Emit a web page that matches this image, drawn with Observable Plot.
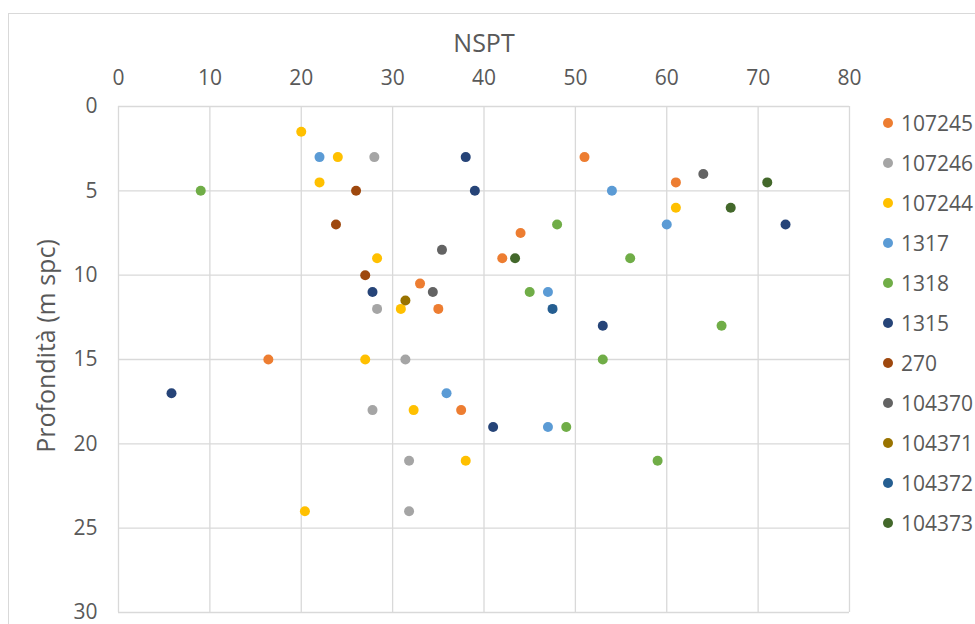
<!DOCTYPE html>
<html>
<head>
<meta charset="utf-8">
<script src="https://cdn.jsdelivr.net/npm/d3@7"></script>
<script src="https://cdn.jsdelivr.net/npm/@observablehq/plot@0.6"></script>
<style>
  html, body { margin: 0; padding: 0; background: #fff; overflow: hidden; }
  #wrap { position: relative; width: 975px; height: 624px; font-family: "Open Sans", sans-serif; color: #595959; }
  #border { position: absolute; left: 8px; top: 13px; width: 1200px; height: 1200px; border: 1px solid #d9d9d9; box-sizing: border-box; }
  #chart { position: absolute; left: 0; top: 0; }
  .title { position: absolute; font-size: 25px; white-space: nowrap; color: #595959; }
  #xtitle { left: 484px; top: 42px; transform: translate(-50%, -50%); }
  #ytitle { left: 45px; top: 346px; transform: translate(-50%, -50%) rotate(-90deg); }
  #legend { position: absolute; left: 883px; top: 0; }
  .item { position: absolute; left: 0; display: flex; align-items: center; font-size: 21px; white-space: nowrap; transform: translateY(-50%); }
  .sw { width: 10px; height: 10px; border-radius: 50%; margin-right: 8px; }
</style>
</head>
<body>
<div id="wrap">
  <div id="border"></div>
  <div id="chart"></div>
  <div class="title" id="xtitle">NSPT</div>
  <div class="title" id="ytitle">Profondità (m spc)</div>
  <div id="legend"></div>
</div>
<script>
// Series names and colours
const seriesNames = ["107245", "107246", "107244", "1317", "1318", "1315", "270", "104370", "104371", "104372", "104373"];
const seriesColors = ["#ED7D31", "#A5A5A5", "#FFC000", "#5B9BD5", "#70AD47", "#264478", "#9E480E", "#636363", "#997300", "#255E91", "#43682B"];

// NSPT values (x) per series
const nspt107245 = [51, 61, 44, 42, 33, 35, 16.4, 37.5];
const nspt107246 = [28, 28.3, 31.4, 27.8, 31.8, 31.8];
const nspt107244 = [20, 24, 22, 61, 28.3, 30.9, 27, 32.3, 38, 20.4];
const nspt1317 = [22, 54, 60, 47, 35.9, 47];
const nspt1318 = [9, 48, 56, 45, 66, 53, 49, 59];
const nspt1315 = [38, 39, 73, 27.8, 53, 5.8, 41];
const nspt270 = [26, 23.8, 27];
const nspt104370 = [64, 35.4, 34.4];
const nspt104371 = [31.4];
const nspt104372 = [47.5];
const nspt104373 = [71, 67, 43.4];

// Depth values (y, m spc) per series
const depth107245 = [3, 4.5, 7.5, 9, 10.5, 12, 15, 18];
const depth107246 = [3, 12, 15, 18, 21, 24];
const depth107244 = [1.5, 3, 4.5, 6, 9, 12, 15, 18, 21, 24];
const depth1317 = [3, 5, 7, 11, 17, 19];
const depth1318 = [5, 7, 9, 11, 13, 15, 19, 21];
const depth1315 = [3, 5, 7, 11, 13, 17, 19];
const depth270 = [5, 7, 10];
const depth104370 = [4, 8.5, 11];
const depth104371 = [11.5];
const depth104372 = [12];
const depth104373 = [4.5, 6, 9];

// Axis ticks
const xTicks = [0, 10, 20, 30, 40, 50, 60, 70, 80];
const yTicks = [0, 5, 10, 15, 20, 25, 30];

const nsptAll = [nspt107245, nspt107246, nspt107244, nspt1317, nspt1318, nspt1315, nspt270, nspt104370, nspt104371, nspt104372, nspt104373];
const depthAll = [depth107245, depth107246, depth107244, depth1317, depth1318, depth1315, depth270, depth104370, depth104371, depth104372, depth104373];

const points = [];
seriesNames.forEach((s, i) => {
  nsptAll[i].forEach((v, j) => points.push({series: s, nspt: v, depth: depthAll[i][j]}));
});

const chart = Plot.plot({
  width: 975,
  height: 624,
  marginLeft: 118,
  marginRight: 126,
  marginTop: 106,
  marginBottom: 12,
  style: {fontFamily: "Open Sans, sans-serif", fontSize: "21px", color: "#595959", background: "transparent"},
  x: {domain: [0, 80]},
  y: {domain: [0, 30], reverse: true},
  color: {domain: seriesNames, range: seriesColors},
  marks: [
    Plot.gridX(xTicks, {stroke: "#d9d9d9", strokeOpacity: 1, strokeWidth: 1.3}),
    Plot.gridY(yTicks, {stroke: "#d9d9d9", strokeOpacity: 1, strokeWidth: 1.3}),
    Plot.axisX(xTicks, {anchor: "top", tickSize: 0, tickPadding: 22, label: null, fontSize: 21}),
    Plot.axisY(yTicks, {anchor: "left", tickSize: 0, tickPadding: 21, label: null, fontSize: 21}),
    Plot.dot(points, {x: "nspt", y: "depth", fill: "series", r: 5, stroke: null})
  ]
});
document.getElementById("chart").appendChild(chart);

const legend = document.getElementById("legend");
seriesNames.forEach((s, i) => {
  const item = document.createElement("div");
  item.className = "item";
  item.style.top = (123 + i * 40) + "px";
  const sw = document.createElement("span");
  sw.className = "sw";
  sw.style.background = seriesColors[i];
  item.appendChild(sw);
  item.appendChild(document.createTextNode(s));
  legend.appendChild(item);
});
</script>
</body>
</html>
